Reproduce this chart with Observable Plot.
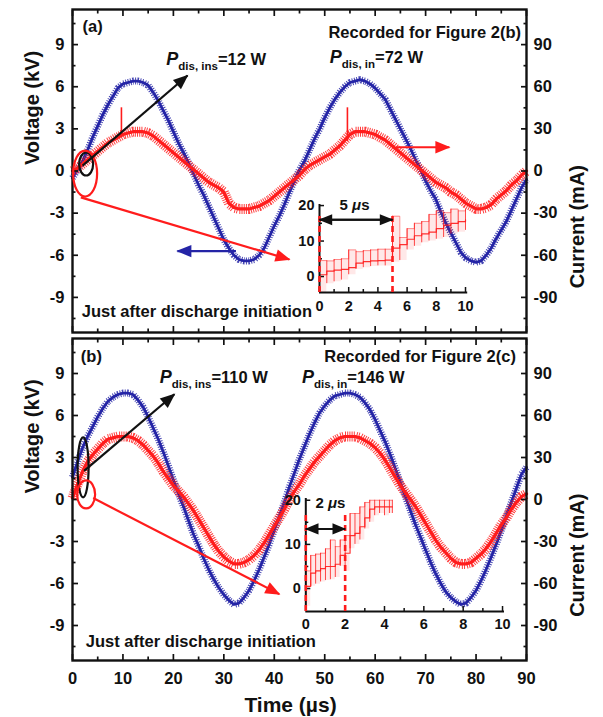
<!DOCTYPE html>
<html><head><meta charset="utf-8">
<script src="https://cdn.jsdelivr.net/npm/d3@7"></script>
<script src="https://cdn.jsdelivr.net/npm/@observablehq/plot@0.6"></script>
<style>
html,body{margin:0;padding:0;background:#fff;}
#wrap{position:relative;width:603px;height:717px;overflow:hidden;background:#fff;}
#wrap svg{position:absolute;}
</style></head><body><div id="wrap"></div>
<script>
// ---------- data ----------
const time = [0,1,2,3,4,5,6,7,8,9,10,11,12,13,14,15,16,17,18,19,20,21,22,23,24,25,26,27,28,29,30,31,32,33,34,35,36,37,38,39,40,41,42,43,44,45,46,47,48,49,50,51,52,53,54,55,56,57,58,59,60,61,62,63,64,65,66,67,68,69,70,71,72,73,74,75,76,77,78,79,80,81,82,83,84,85,86,87,88,89,90];

// panel (a) voltage, kV
const voltageA = [-0.5,0.1,0.7,1.5,2.4,3.2,4.0,4.7,5.3,5.9,
  6.2,6.3,6.4,6.4,6.3,6.1,5.6,5.0,4.3,3.6,
  2.8,2.0,1.3,0.6,-0.2,-1.0,-1.7,-2.5,-3.3,-4.1,
  -4.9,-5.5,-6.0,-6.3,-6.4,-6.4,-6.3,-6.0,-5.5,-4.7,
  -3.9,-3.2,-2.4,-1.5,-0.7,0.1,0.7,1.5,2.3,3.0,
  3.8,4.5,5.1,5.6,6.0,6.3,6.4,6.5,6.4,6.2,
  5.9,5.5,5.1,4.4,3.7,3.0,2.3,1.6,0.8,0.1,
  -0.7,-1.4,-2.0,-2.9,-3.7,-4.4,-5.1,-5.8,-6.2,-6.4,
  -6.5,-6.4,-6.0,-5.5,-4.8,-4.2,-3.6,-2.8,-2.0,-1.2,
  -0.6];
// panel (a) current, mA
const currentA = [0,2,5,8,11,14,17,20,22,24,
  26,27,28,28,28,27,25,22,19,16,
  13,10,7,4,1,-2,-5,-8,-10,-12,
  -15,-23,-26,-27,-27,-27,-26,-25,-23,-21,
  -18,-15,-12,-9,-6,-3,1,4,6,8,
  10,12,15,18,22,26,28,28,28,27,
  26,24,22,19,16,13,10,7,4,1,
  -2,-5,-8,-10,-12,-15,-17,-20,-23,-25,
  -27,-27,-26,-24,-20,-17,-14,-10,-7,-3,
  0];
// panel (b) voltage, kV
const voltageB = [1.6,2.7,3.7,4.5,5.2,5.9,6.5,7.0,7.3,7.5,
  7.6,7.6,7.5,7.1,6.6,5.9,5.1,4.3,3.4,2.4,
  1.4,0.4,-0.5,-1.5,-2.5,-3.3,-4.2,-5.0,-5.7,-6.3,
  -6.8,-7.2,-7.5,-7.4,-7.0,-6.5,-5.8,-5.0,-4.1,-3.2,
  -2.2,-1.2,-0.2,0.9,1.9,2.9,3.8,4.7,5.5,6.2,
  6.7,7.1,7.4,7.5,7.6,7.6,7.5,7.3,6.9,6.4,
  5.7,4.9,4.1,3.2,2.2,1.2,0.2,-0.8,-1.8,-2.7,
  -3.6,-4.5,-5.3,-6.0,-6.6,-7.0,-7.3,-7.5,-7.4,-7.0,
  -6.5,-5.8,-5.0,-4.1,-3.2,-2.2,-1.2,-0.2,0.8,1.8,
  2.3];
// panel (b) current, mA
const currentB = [1,11,20,27,32,36,40,43,44,45,
  45,45,44,42,39,35,31,26,20,15,
  10,6,2,-3,-8,-14,-20,-26,-32,-37,
  -41,-44,-46,-46,-45,-43,-40,-36,-31,-25,
  -19,-13,-7,0,6,11,17,22,27,31,
  35,39,42,44,45,45,45,44,42,40,
  37,33,28,22,16,10,5,0,-5,-11,
  -17,-23,-29,-34,-38,-42,-45,-46,-46,-45,
  -42,-39,-35,-30,-24,-18,-13,-7,-2,2,
  4];
// current spikes in panel (a): time, from, to (mA)
const spikeTimeA = [9.7, 54.5];
const spikeFromA = [24, 21];
const spikeToA = [45, 45];

// insets: time (µs), typical level, lower and upper envelope of the noisy trace (mA)
const insetTimeA = [0,0.5,1,1.5,2,2.5,3,3.5,4,4.5,5,5.5,6,6.5,7,7.5,8,8.5,9,9.5,10];
const insetBaseA = [0.5,1.5,1.8,2.0,2.5,3.8,4.2,4.4,4.5,4.6,8.0,9.0,10.5,11.5,12.0,12.5,13.5,14.5,15.0,15.5,16.0];
const insetLowA  = [-4.5,-2.0,-1.5,-1.0,0.5,2.0,2.5,2.8,3.0,3.0,4.0,4.5,7.5,8.5,9.5,10.0,10.5,11.0,12.0,12.5,13.0];
const insetHighA = [4.5,4.4,4.8,5.0,7.5,7.0,7.3,7.5,7.7,7.7,17.0,11.0,13.5,15.0,15.5,17.5,18.5,18.0,19.0,18.5,19.0];
const insetTimeB = [0,0.25,0.5,0.75,1,1.25,1.5,1.75,2,2.25,2.5,2.75,3,3.25,3.5,3.75,4,4.25,4.4];
const insetBaseB = [0.5,3.5,4.0,4.5,5.0,5.0,5.5,7.5,8.0,12.0,12.5,14.0,16.0,18.0,18.5,18.5,18.5,18.5,18.5];
const insetLowB  = [-4,0.5,1.0,1.5,1.8,2.0,2.5,5.0,4.0,9.0,10.0,11.0,13.5,15.0,16.5,17.0,16.5,17.0,17.0];
const insetHighB = [4.0,7.5,7.8,8.0,9.0,11.0,9.5,11.0,12.0,17.0,17.0,18.5,19.5,20.0,20.0,20.0,20.0,20.0,20.0];

// ticks
const timeTicks = [0,10,20,30,40,50,60,70,80,90];
const timeMinor = [5,15,25,35,45,55,65,75,85];
const voltTicks = [-9,-6,-3,0,3,6,9];
const voltMinor = [-10.5,-7.5,-4.5,-1.5,1.5,4.5,7.5,10.5];
const CURRENT_PER_KV = 10; // right axis: 30 mA per 3 kV
const insetXTicks = [0,2,4,6,8,10];
const insetXMinor = [1,3,5,7,9];
const insetYTicks = [0,10,20];
const insetYMinor = [5,15];

// annotations (data coordinates: µs, kV)
const notesA = [
  {t: 2.0, v: 9.9, text: "(a)", anchor: "start"},
  {t: 88.9, v: 9.48, text: "Recorded for Figure 2(b)", anchor: "end"},
  {t: 18.6, v: 7.57, text: "P_{dis, ins}=12 W", anchor: "start"},
  {t: 51.0, v: 7.7, text: "P_{dis, in}=72 W", anchor: "start"},
  {t: 1.85, v: -10.38, text: "Just after discharge initiation", anchor: "start"}
];
const notesB = [
  {t: 1.65, v: 9.8, text: "(b)", anchor: "start"},
  {t: 87.9, v: 9.8, text: "Recorded for Figure 2(c)", anchor: "end"},
  {t: 17.3, v: 8.3, text: "P_{dis, ins}=110 W", anchor: "start"},
  {t: 45.5, v: 8.3, text: "P_{dis, in}=146 W", anchor: "start"},
  {t: 2.64, v: -10.57, text: "Just after discharge initiation", anchor: "start"}
];
const arrowsA = [
  {x1: 2.0, y1: 0.38, x2: 22.8, y2: 6.8, kind: "black"},
  {x1: 1.65, y1: -1.88, x2: 43, y2: -6.3, kind: "red"},
  {x1: 32.4, y1: -5.7, x2: 20.8, y2: -5.7, kind: "blue"},
  {x1: 64.1, y1: 1.69, x2: 74.7, y2: 1.69, kind: "red"}
];
const arrowsB = [
  {x1: 2.3, y1: 2.05, x2: 20.2, y2: 7.52, kind: "black"},
  {x1: 4.1, y1: 0.1, x2: 41, y2: -6.76, kind: "red"}
];
const ellipsesA = [
  {t: 2.7, v: 0.5, kind: "black", rx: 7, ry: 11.5},
  {t: 2.5, v: -0.18, kind: "red", rx: 12, ry: 23}
];
const ellipsesB = [
  {t: 2.1, v: 2.3, kind: "black", rx: 5.5, ry: 30},
  {t: 2.7, v: 0.36, kind: "red", rx: 9, ry: 14}
];
const insetNoteA = {t: 2.4, v: 20.2, text: "5 *μ*s", x1: 0, x2: 5, y: 16, dash: [0, 5], dashTop: 17};
const insetNoteB = {t: 1.25, v: 19.3, text: "2 *μ*s", x1: 0, x2: 2, y: 13.5, dash: [0, 2], dashTop: 17};

// ---------- drawing ----------
const BLUE = "#2424a6", RED = "#ff1c1c", INK = "#111111";
const COLORS = {black: INK, red: RED, blue: BLUE};
const STYLE = "font-family: 'Liberation Sans', Arial, Helvetica, sans-serif; font-weight: bold; font-size: 16px; color: #111; background: transparent; overflow: visible;";

function ellipseSymbol(rx, ry) {
  const k = 0.5523;
  return {draw(c) {
    c.moveTo(rx, 0);
    c.bezierCurveTo(rx, ry * k, rx * k, ry, 0, ry);
    c.bezierCurveTo(-rx * k, ry, -rx, ry * k, -rx, 0);
    c.bezierCurveTo(-rx, -ry * k, -rx * k, -ry, 0, -ry);
    c.bezierCurveTo(rx * k, -ry, rx, -ry * k, rx, 0);
    c.closePath();
  }};
}

function fixMarkers(svg) {
  svg.querySelectorAll("marker").forEach(m => {
    const color = m.getAttribute("stroke") || INK;
    m.setAttribute("overflow", "visible");
    m.style.overflow = "visible";
    m.setAttribute("orient", "auto");
    m.setAttribute("stroke", "none");
    m.setAttribute("fill", color);
    const p = m.querySelector("path");
    if (p) {
      p.setAttribute("d", "M-9.5,-4.2L0.8,0L-9.5,4.2Z");
      p.setAttribute("fill", color);
      p.setAttribute("stroke", "none");
    }
  });
}

function richText(svg) {
  const NS = "http://www.w3.org/2000/svg";
  svg.querySelectorAll("text").forEach(el => {
    if (el.querySelector("tspan")) return;
    const s = el.textContent;
    const add = (txt, attrs) => {
      const t = document.createElementNS(NS, "tspan");
      for (const k in attrs) t.setAttribute(k, attrs[k]);
      t.textContent = txt;
      el.appendChild(t);
    };
    let m = s.match(/^(.)_\{([^}]*)\}(.*)$/);
    if (m) {
      el.textContent = "";
      add(m[1], {"font-style": "italic", "font-size": "18"});
      add(m[2], {"font-size": "11.5", "dy": "5"});
      add(m[3], {"dy": "-5"});
      return;
    }
    m = s.match(/^(.*)\*(.+)\*(.*)$/);
    if (m) {
      el.textContent = "";
      add(m[1], {});
      add(m[2], {"font-style": "italic"});
      add(m[3], {});
    }
  });
}

function linkMarks(arrows) {
  return Object.keys(COLORS).map(kind => {
    const rows = arrows.filter(d => d.kind === kind);
    return rows.length ? Plot.link(rows, {x1: "x1", y1: "y1", x2: "x2", y2: "y2", stroke: COLORS[kind], strokeWidth: 2.2, markerEnd: "arrow"}) : null;
  });
}

// a noisy oscilloscope trace: hatched wide band + solid core
function trace(rows, y, color, band, core, dash) {
  return [
    Plot.line(rows, {x: "t", y, stroke: color, strokeWidth: band, strokeDasharray: dash, strokeOpacity: 0.85, strokeLinecap: "butt"}),
    Plot.line(rows, {x: "t", y, stroke: color, strokeWidth: core, strokeLinejoin: "round"})
  ];
}

function mainPanel(cfg) {
  const rowsV = time.map((t, i) => ({t, v: cfg.volt[i]}));
  const rowsI = time.map((t, i) => ({t, i: cfg.curr[i]}));
  const marks = [
    ...trace(rowsV, "v", BLUE, 7, 2.8, "1,1.4"),
    ...trace(rowsI, d => d.i / CURRENT_PER_KV, RED, 10, 3.2, "1,1.2")
  ];
  if (cfg.spikes) marks.push(Plot.ruleX(cfg.spikes, {x: "t", y1: d => d.lo / CURRENT_PER_KV, y2: d => d.hi / CURRENT_PER_KV, stroke: RED, strokeWidth: 1.6}));
  marks.push(Plot.frame({stroke: INK, strokeWidth: 2.4}));
  for (const anchor of ["top", "bottom"]) {
    marks.push(Plot.axisX({anchor, ticks: timeTicks, tickSize: -6, fill: "none", label: null, strokeWidth: 1.7}));
    marks.push(Plot.axisX({anchor, ticks: timeMinor, tickSize: -3.5, fill: "none", label: null, strokeWidth: 1.7}));
  }
  for (const anchor of ["left", "right"]) {
    marks.push(Plot.axisY({anchor, ticks: voltTicks, tickSize: -6, fill: "none", label: null, strokeWidth: 1.7}));
    marks.push(Plot.axisY({anchor, ticks: voltMinor, tickSize: -3.5, fill: "none", label: null, strokeWidth: 1.7}));
  }
  marks.push(Plot.axisY({anchor: "left", ticks: voltTicks, tickSize: 0, tickPadding: 8, tickFormat: d => String(d), label: null, fontSize: 16.5}));
  marks.push(Plot.axisY({anchor: "right", ticks: voltTicks, tickSize: 0, tickPadding: 7, tickFormat: d => String(d * CURRENT_PER_KV), label: null, fontSize: 16.5}));
  if (cfg.showX) {
    marks.push(Plot.axisX({anchor: "bottom", ticks: timeTicks, tickSize: 0, tickPadding: 12, tickFormat: d => String(d), label: null, fontSize: 16.5}));
    marks.push(Plot.text(["Time (µs)"], {text: d => d, frameAnchor: "bottom", dx: -9, dy: 51, lineAnchor: "bottom", fontSize: 21, fill: INK}));
  }
  marks.push(Plot.text(["Voltage (kV)"], {text: d => d, frameAnchor: "left", rotate: -90, dx: -40, dy: -6, fontSize: 20, fill: INK}));
  marks.push(Plot.text(["Current (mA)"], {text: d => d, frameAnchor: "right", rotate: -90, dx: 51, dy: -6, fontSize: 20, fill: INK}));
  for (const e of cfg.ellipses) {
    marks.push(Plot.dot([e], {x: "t", y: "v", r: 5, symbol: ellipseSymbol(e.rx, e.ry), fill: "none", stroke: COLORS[e.kind], strokeWidth: 2.2}));
  }
  marks.push(...linkMarks(cfg.arrows));
  marks.push(Plot.text(cfg.notes.filter(d => d.anchor === "start"), {x: "t", y: "v", text: "text", textAnchor: "start", lineAnchor: "bottom", fontSize: 16.5, fill: INK}));
  marks.push(Plot.text(cfg.notes.filter(d => d.anchor === "end"), {x: "t", y: "v", text: "text", textAnchor: "end", lineAnchor: "bottom", fontSize: 16.5, fill: INK}));

  const svg = Plot.plot({
    width: 603, height: cfg.height,
    marginLeft: 72, marginRight: 77, marginTop: cfg.marginTop, marginBottom: cfg.marginBottom,
    x: {domain: [0, 90]},
    y: {domain: [-11.5, 11.5]},
    style: STYLE,
    marks
  });
  fixMarkers(svg);
  richText(svg);
  svg.style.left = "0px";
  svg.style.top = cfg.top + "px";
  return svg;
}

function insetPanel(cfg) {
  const rows = cfg.times.map((t, i) => ({t, base: cfg.base[i], lo: cfg.lo[i], hi: cfg.hi[i]}));
  const note = cfg.note;
  const yMin = cfg.yDomain[0];
  const marks = [
    Plot.areaY(rows, {x: "t", y1: "lo", y2: "hi", fill: RED, fillOpacity: 0.1, curve: "step-after"}),
    Plot.ruleX(rows, {x: "t", y1: "lo", y2: "hi", stroke: RED, strokeWidth: 1, strokeOpacity: 0.8}),
    Plot.line(rows, {x: "t", y: "base", stroke: RED, strokeWidth: 1.2, strokeOpacity: 0.9, curve: "step-after"}),
    Plot.line(rows, {x: "t", y: "hi", stroke: RED, strokeWidth: 0.8, strokeOpacity: 0.6, curve: "step-after"}),
    Plot.ruleX([0], {stroke: INK, strokeWidth: 2}),
    Plot.ruleY([yMin], {stroke: INK, strokeWidth: 2}),
    Plot.axisX({anchor: "bottom", ticks: insetXTicks, tickSize: -5, fill: "none", label: null, strokeWidth: 1.5}),
    Plot.axisX({anchor: "bottom", ticks: insetXMinor, tickSize: -3, fill: "none", label: null, strokeWidth: 1.5}),
    Plot.axisY({anchor: "left", ticks: insetYTicks, tickSize: -5, fill: "none", label: null, strokeWidth: 1.5}),
    Plot.axisY({anchor: "left", ticks: insetYMinor, tickSize: -3, fill: "none", label: null, strokeWidth: 1.5}),
    Plot.axisX({anchor: "bottom", ticks: insetXTicks, tickSize: 0, tickPadding: cfg.xPad, tickFormat: d => String(d), label: null, fontSize: 14.5}),
    Plot.axisY({anchor: "left", ticks: insetYTicks, tickSize: 0, tickPadding: 5, tickFormat: d => String(d), label: null, fontSize: 14.5}),
    Plot.ruleX(note.dash, {x: d => d, y1: yMin, y2: note.dashTop, stroke: RED, strokeWidth: 2.6, strokeDasharray: "6,4"}),
    Plot.link([note], {x1: "x1", x2: "x2", y1: "y", y2: "y", stroke: INK, strokeWidth: 2, markerEnd: "arrow"}),
    Plot.link([note], {x1: "x2", x2: "x1", y1: "y", y2: "y", stroke: INK, strokeWidth: 2, markerEnd: "arrow"}),
    Plot.text([note], {x: "t", y: "v", text: "text", fontSize: 15, fill: INK})
  ];
  const svg = Plot.plot({
    width: cfg.width, height: cfg.height,
    marginLeft: cfg.marginLeft, marginRight: cfg.marginRight, marginTop: cfg.marginTop, marginBottom: cfg.marginBottom,
    x: {domain: cfg.xDomain},
    y: {domain: cfg.yDomain},
    style: STYLE,
    marks
  });
  fixMarkers(svg);
  richText(svg);
  svg.style.left = cfg.left + "px";
  svg.style.top = cfg.top + "px";
  return svg;
}

const wrap = document.getElementById("wrap");
const spikesA = spikeTimeA.map((t, i) => ({t, lo: spikeFromA[i], hi: spikeToA[i]}));

wrap.appendChild(mainPanel({top: 0, height: 335, marginTop: 9, marginBottom: 3, volt: voltageA, curr: currentA, spikes: spikesA, notes: notesA, arrows: arrowsA, ellipses: ellipsesA, showX: false}));
wrap.appendChild(mainPanel({top: 335, height: 382, marginTop: 3, marginBottom: 57, volt: voltageB, curr: currentB, spikes: null, notes: notesB, arrows: arrowsB, ellipses: ellipsesB, showX: true}));
wrap.appendChild(insetPanel({left: 270, top: 188, width: 210, height: 135, marginLeft: 49, marginRight: 12.8, marginTop: 16, marginBottom: 31, xDomain: [0, 10.15], yDomain: [-4.5, 20.3], xPad: 8, times: insetTimeA, base: insetBaseA, lo: insetLowA, hi: insetHighA, note: insetNoteA}));
wrap.appendChild(insetPanel({left: 255, top: 480, width: 260, height: 160, marginLeft: 50.3, marginRight: 11, marginTop: 18, marginBottom: 29, xDomain: [0, 10.1], yDomain: [-5.2, 20.4], xPad: 7, times: insetTimeB, base: insetBaseB, lo: insetLowB, hi: insetHighB, note: insetNoteB}));
</script>
</body></html>
